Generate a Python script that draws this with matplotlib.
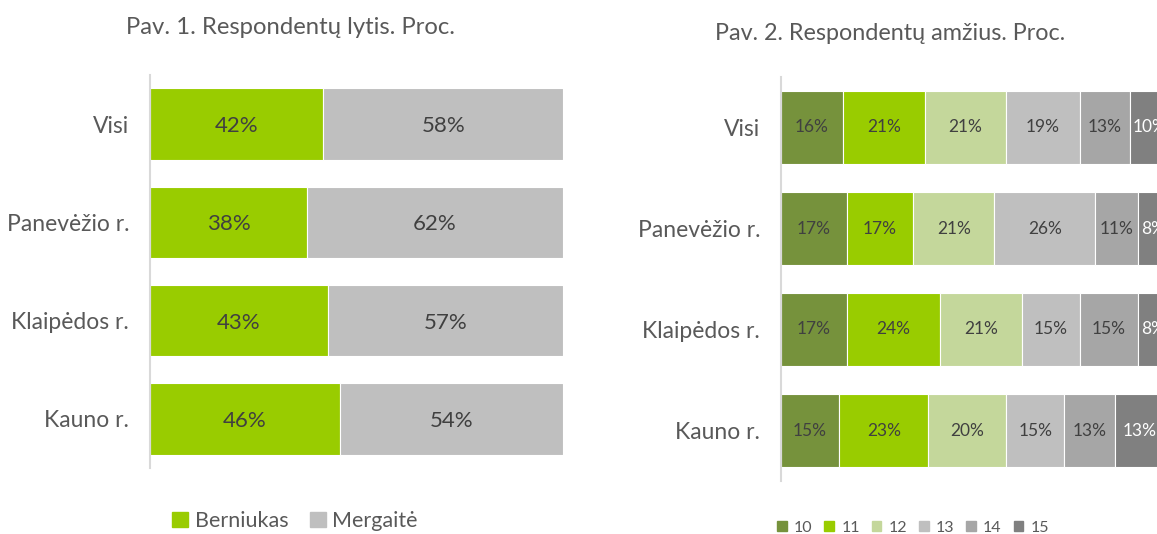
import matplotlib.pyplot as plt
from matplotlib.patches import Patch

plt.rcParams['font.family'] = ['Lato', 'DejaVu Sans']

# duomenys
regions = ['Visi', 'Panevėžio r.', 'Klaipėdos r.', 'Kauno r.']
berniukas = [42, 38, 43, 46]
mergaite = [58, 62, 57, 54]

ages = ['10', '11', '12', '13', '14', '15']
age_visi = [16, 21, 21, 19, 13, 10]
age_panevezio = [17, 17, 21, 26, 11, 8]
age_klaipedos = [17, 24, 21, 15, 15, 8]
age_kauno = [15, 23, 20, 15, 13, 13]

gender_colors = ['#99CC00', '#BFBFBF']
age_colors = ['#76923C', '#99CC00', '#C4D79B', '#BFBFBF', '#A6A6A6', '#808080']
age_text = ['#404040'] * 5 + ['white']

fig = plt.figure(figsize=(11.57, 5.34), dpi=100)
W, H = 1157, 534


def style(ax, labelsize):
    for s in ['top', 'right', 'bottom']:
        ax.spines[s].set_visible(False)
    ax.spines['left'].set_color('#D9D9D9')
    ax.spines['left'].set_linewidth(1.5)
    ax.set_xticks([])
    ax.tick_params(axis='y', length=0, pad=15, labelsize=labelsize, labelcolor='#595959')


# Pav. 1
ax1 = fig.add_axes([150 / W, 1 - 468 / H, 413 / W, 393 / H])
ypos = range(len(regions))
left = [0] * len(regions)
for vals, col in zip([berniukas, mergaite], gender_colors):
    bars = ax1.barh(ypos, vals, left=left, height=0.73, color=col, edgecolor='white', linewidth=0.8)
    for b, v in zip(bars, vals):
        ax1.text(b.get_x() + b.get_width() / 2, b.get_y() + b.get_height() / 2 + 0.02, f'{v}%',
                 ha='center', va='center', fontsize=16, color='#404040')
    left = [l + v for l, v in zip(left, vals)]
ax1.set_xlim(0, 100)
ax1.set_ylim(3.5, -0.5)
ax1.set_yticks(list(ypos))
ax1.set_yticklabels(regions)
style(ax1, 16.5)
fig.text(291 / W, 1 - 28 / H, 'Pav. 1. Respondentų lytis. Proc.', ha='center', va='center',
         fontsize=17.2, color='#595959')
fig.legend([Patch(color=c) for c in gender_colors], ['Berniukas', 'Mergaitė'],
           loc='center', bbox_to_anchor=(295 / W, 1 - 521 / H), ncol=2, frameon=False,
           fontsize=15.5, labelcolor='#595959', handlelength=0.75, handleheight=0.75,
           handletextpad=0.3, columnspacing=1.0)

# Pav. 2
ax2 = fig.add_axes([781 / W, 1 - 481 / H, 388 / W, 404 / H])
age_rows = [age_visi, age_panevezio, age_klaipedos, age_kauno]
for i in range(len(ages)):
    vals = [row[i] for row in age_rows]
    lefts = [sum(row[:i]) for row in age_rows]
    bars = ax2.barh(ypos, vals, left=lefts, height=0.72, color=age_colors[i],
                    edgecolor='white', linewidth=0.8)
    for b, v in zip(bars, vals):
        ax2.text(b.get_x() + b.get_width() / 2, b.get_y() + b.get_height() / 2, f'{v}%',
                 ha='center', va='center', fontsize=12.5, color=age_text[i])
ax2.set_xlim(0, 100)
ax2.set_ylim(3.5, -0.5)
ax2.set_yticks(list(ypos))
ax2.set_yticklabels(regions)
style(ax2, 16.5)
fig.text(890 / W, 1 - 33 / H, 'Pav. 2. Respondentų amžius. Proc.', ha='center', va='center',
         fontsize=16.8, color='#595959')
fig.legend([Patch(color=c) for c in age_colors], ages,
           loc='center', bbox_to_anchor=(913 / W, 1 - 528 / H), ncol=6, frameon=False,
           fontsize=11.5, labelcolor='#595959', handlelength=0.6, handleheight=0.6,
           handletextpad=0.45, columnspacing=0.75)

fig.savefig('out.png', dpi=100)
